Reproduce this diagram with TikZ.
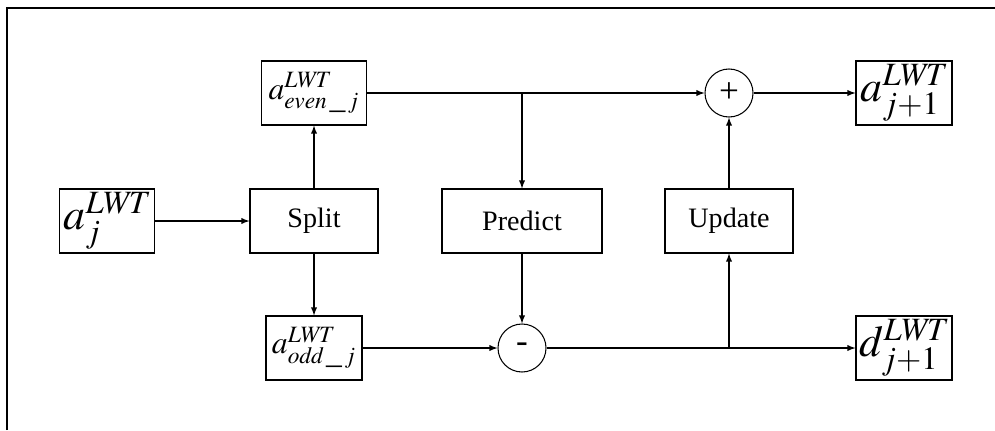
\documentclass[tikz,border=0pt]{standalone}
\usepackage{mathptmx}
\usepackage{fontspec}
\setmainfont{Liberation Serif}
\usetikzlibrary{shapes,arrows}
\usetikzlibrary{positioning}

\begin{document}
\begin{tikzpicture}[>=latex, line width=0.6pt, on grid, node distance=4.14cm,
  block/.style={draw, minimum height=1.28cm, font=\fontsize{16}{18}\selectfont},
  coef/.style={draw, minimum height=1.28cm, inner sep=1pt, font=\fontsize{25}{28}\selectfont},
  half/.style={draw, minimum height=1.28cm, inner sep=1pt, font=\fontsize{18}{22}\selectfont},
  sum/.style={draw, circle, minimum size=0.96cm, inner sep=0pt, font=\fontsize{20}{22}\selectfont}]
  \useasboundingbox (-2.14,-4.18) rectangle (17.76,4.42);
  \draw[line width=1pt] (-2.0,-4.18) |- (17.76,4.26);

  % Input and split
  \node[coef, minimum width=1.9cm] (aj) {$a_j^{\mathit{LWT}}$};
  \node[block, minimum width=2.56cm, right=of aj] (split) {Split};
  \node[half, minimum width=2.1cm, above=2.56cm of split] (even) {$a^{\mathit{LWT}}_{\mathit{even}\,\_\,j}$};
  \node[half, minimum width=1.92cm, below=2.54cm of split] (odd) {$a^{\mathit{LWT}}_{\mathit{odd}\,\_\,j}$};

  % Predict and update
  \node[block, minimum width=3.2cm, right=4.16cm of split] (predict) {Predict};
  \node[block, minimum width=2.56cm, right=of predict] (update) {Update};
  \node[sum, above=2.56cm of update] (plus) {+};
  \node[sum, below=2.54cm of predict] (minus) {-};

  % Outputs
  \node[coef, minimum width=1.92cm, right=3.5cm of plus] (aout) {$a_{j+1}^{\mathit{LWT}}$};
  \node[coef, minimum width=1.92cm, right=7.64cm of minus] (dout) {$d_{j+1}^{\mathit{LWT}}$};

  \coordinate (tapE) at (even.east -| predict.north);
  \coordinate (tapD) at (minus.east -| update.south);

  \draw[->] (aj) -- (split);
  \draw[->] (split) -- (even);
  \draw[->] (split) -- (odd);
  \draw[->] (even) -- (plus);
  \draw[->] (tapE) -- (predict);
  \draw[->] (predict) -- (minus);
  \draw[->] (odd) -- (minus);
  \draw[->] (minus) -- (dout);
  \draw[->] (tapD) -- (update);
  \draw[->] (update) -- (plus);
  \draw[->] (plus) -- (aout);
\end{tikzpicture}
\end{document}
